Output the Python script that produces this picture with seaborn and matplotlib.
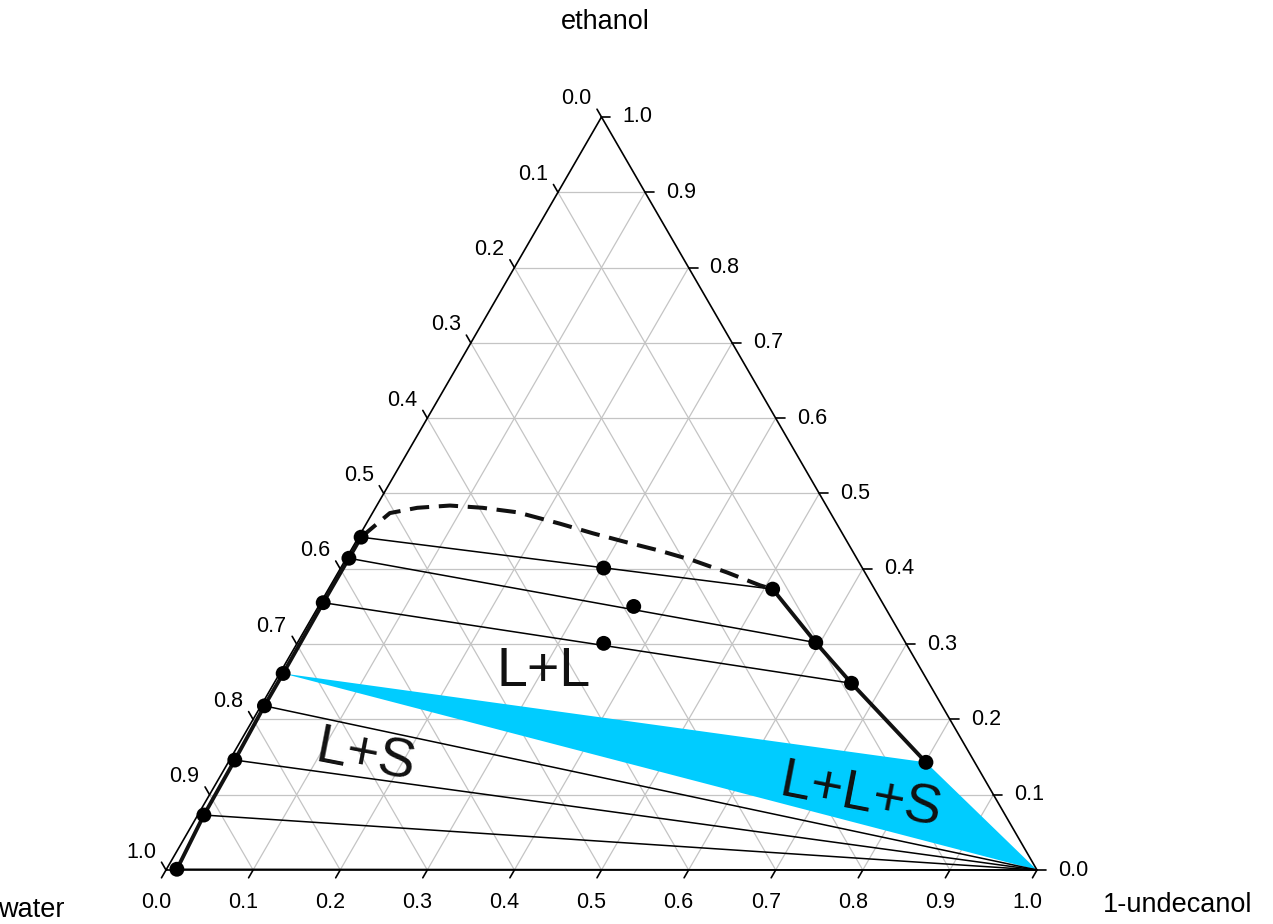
import numpy as np
import pandas as pd
import matplotlib
matplotlib.use('Agg')
import matplotlib.pyplot as plt
import seaborn as sns

# Ternary data: mass fractions of ethanol and 1-undecanol (water = rest)
# water-rich branch of the binodal (left side, top to bottom)
left_eth = [0.442, 0.414, 0.355, 0.261, 0.218, 0.146, 0.073, 0.001]
left_und = [0.003, 0.003, 0.003, 0.004, 0.004, 0.006, 0.007, 0.012]

# undecanol-rich branch of the binodal (right side)
right_eth = [0.373, 0.302, 0.248, 0.143]
right_und = [0.510, 0.595, 0.663, 0.801]

# feed compositions on the L+L tie lines
feed_eth = [0.401, 0.350, 0.301]
feed_und = [0.302, 0.362, 0.352]

# estimated (dashed) part of the binodal
dash_eth = [0.442, 0.474, 0.481, 0.484, 0.481, 0.475, 0.460, 0.447, 0.435, 0.424, 0.411, 0.395, 0.378, 0.373]
dash_und = [0.003, 0.020, 0.048, 0.084, 0.123, 0.166, 0.222, 0.267, 0.312, 0.355, 0.400, 0.447, 0.493, 0.510]

# tie lines: L+L pairs (left idx, right idx), L+S lines from left idx to pure undecanol
ll_pairs = [(0, 0), (1, 1), (2, 2)]
ls_left = [4, 5, 6, 7]
lls_left, lls_right = 3, 3

ticks = [round(0.1 * i, 1) for i in range(11)]
tick_labels = [f'{t:.1f}' for t in ticks]

# region labels (ethanol, undecanol, text, rotation)
region_labels = [(0.263, 0.302, 'L+L', 0), (0.150, 0.154, 'L+S', -11), (0.096, 0.749, 'L+L+S', -11)]

sns.set_style('white')
plt.rcParams['font.family'] = ['Liberation Sans', 'DejaVu Sans']
plt.rcParams['text.color'] = 'black'

SX, SY = 871.0, 869.5  # pixels per data unit


def tern(eth, und):
    eth = np.asarray(eth, dtype=float)
    und = np.asarray(und, dtype=float)
    return und + eth / 2, eth * np.sqrt(3) / 2


def px(dx, dy):
    return dx / SX, -dy / SY


fig = plt.figure(figsize=(12.73, 9.24), dpi=100)
ax = fig.add_axes([0, 0, 1, 1])
ax.set_xlim(-166 / SX, (1273 - 166) / SX)
ax.set_ylim(-(924 - 870) / SY, 870 / SY)
ax.axis('off')

grid_kw = dict(color='#c4c4c4', lw=0.9, zorder=1)
for f in ticks[1:-1]:
    ax.plot(*tern([f, f], [0, 1 - f]), **grid_kw)          # const ethanol
    ax.plot(*tern([0, 1 - f], [f, f]), **grid_kw)          # const undecanol
    ax.plot(*tern([0, 1 - f], [1 - f, 0]), **grid_kw)      # const water

# triangle
ax.plot(*tern([0, 0, 1, 0], [0, 1, 0, 0]), color='black', lw=1.2, zorder=3)

# ticks and labels
tl = 9
for t, lab in zip(ticks, tick_labels):
    # bottom: undecanol
    x0, y0 = tern(0, t)
    dx, dy = px(-0.5 * tl, 0.866 * tl)
    ax.plot([x0, x0 + dx], [y0, y0 + dy], color='black', lw=1.2)
    ox, oy = px(-10, 32)
    ax.text(x0 + ox, y0 + oy, lab, ha='center', va='center', fontsize=15.5)
    # left: water
    x0, y0 = tern(1 - t, 0)
    dx, dy = px(-0.5 * tl, -0.866 * tl)
    ax.plot([x0, x0 + dx], [y0, y0 + dy], color='black', lw=1.2)
    ox, oy = px(-10, -18)
    ax.text(x0 + ox, y0 + oy, lab, ha='right', va='center', fontsize=15.5)
    # right: ethanol
    x0, y0 = tern(t, 1 - t)
    dx, dy = px(tl, 0)
    ax.plot([x0, x0 + dx], [y0, y0 + dy], color='black', lw=1.2)
    ox, oy = px(21, 0)
    ax.text(x0 + ox, y0 + oy, lab, ha='left', va='center', fontsize=15.5)

# three-phase region
tri_eth = [left_eth[lls_left], right_eth[lls_right], 0]
tri_und = [left_und[lls_left], right_und[lls_right], 1]
ax.fill(*tern(tri_eth, tri_und), color='#00CCFF', lw=0, zorder=2)

# tie lines
for i, j in ll_pairs:
    ax.plot(*tern([left_eth[i], right_eth[j]], [left_und[i], right_und[j]]), color='black', lw=1.1, zorder=4)
for i in ls_left:
    ax.plot(*tern([left_eth[i], 0], [left_und[i], 1]), color='black', lw=1.1, zorder=4)

# binodal
ax.plot(*tern(left_eth, left_und), color='#111111', lw=2.8, zorder=5)
ax.plot(*tern(right_eth, right_und), color='#111111', lw=2.8, zorder=5)
ax.plot(*tern(dash_eth, dash_und), color='#111111', lw=2.9, dashes=(4.8, 2.4), zorder=5)

# points
pts = pd.DataFrame({
    'eth': left_eth + right_eth + feed_eth,
    'und': left_und + right_und + feed_und,
})
pts['x'], pts['y'] = tern(pts['eth'], pts['und'])
sns.scatterplot(data=pts, x='x', y='y', ax=ax, color='black', s=115, edgecolor='none', zorder=6, legend=False)
ax.set_xlabel('')
ax.set_ylabel('')

for e, u, txt, rot in region_labels:
    x, y = tern(e, u)
    ax.text(x, y, txt, fontsize=40, ha='center', va='center', rotation=rot, color='#111111', zorder=7)

fig.text(605 / 1273, 1 - 22 / 924, 'ethanol', ha='center', va='center', fontsize=19.5)
fig.text(31 / 1273, 1 - 910 / 924, 'water', ha='center', va='center', fontsize=19.5)
fig.text(1178 / 1273, 1 - 905 / 924, '1-undecanol', ha='center', va='center', fontsize=19.5)

fig.savefig('out.png', dpi=100)
